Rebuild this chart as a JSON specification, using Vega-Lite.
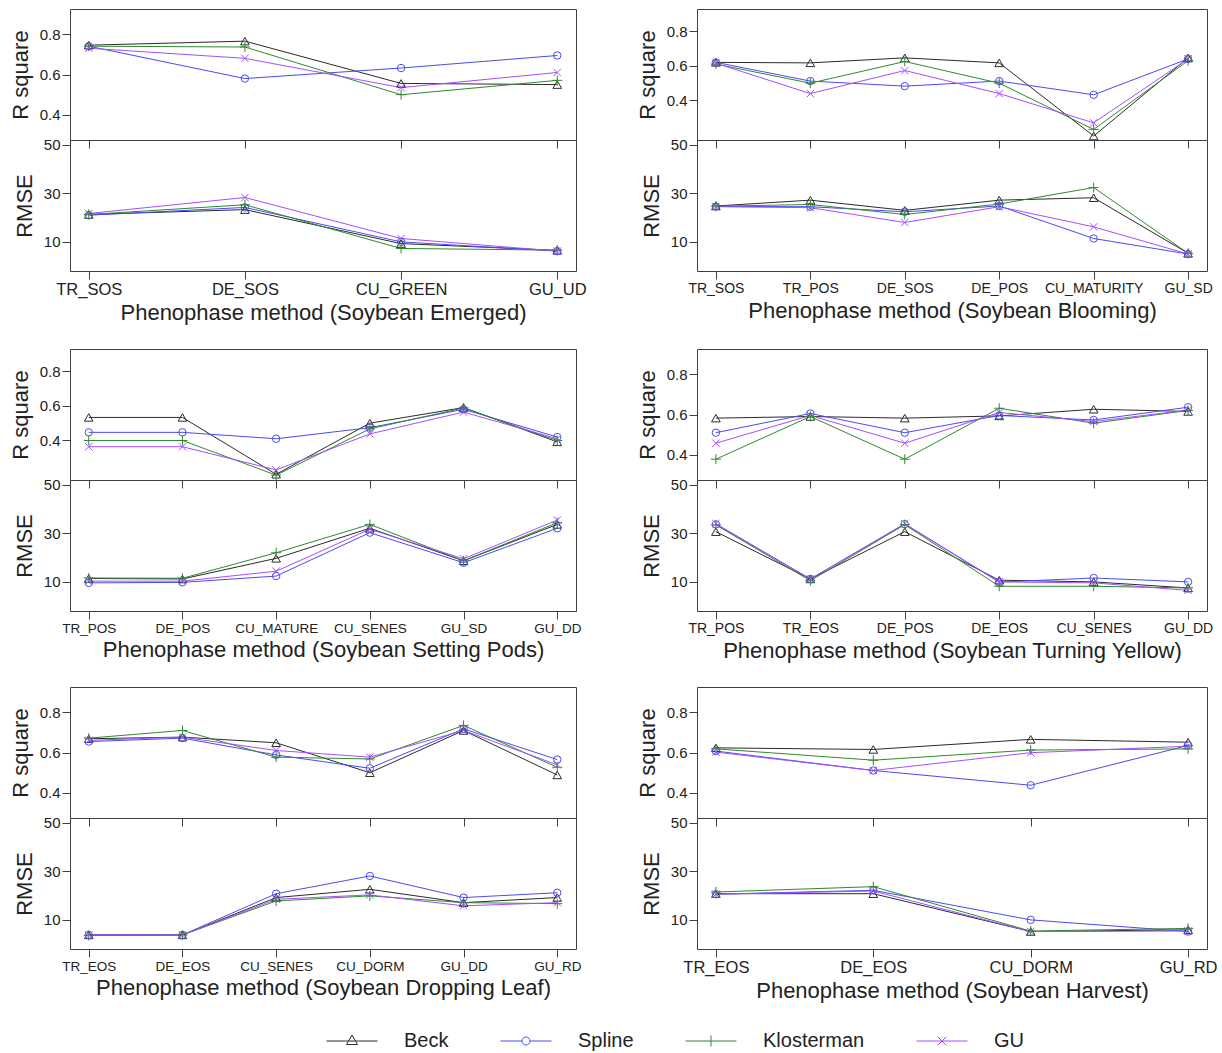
{
"$schema": "https://vega.github.io/schema/vega-lite/v6.json",
"padding": {"left": 8, "top": 8, "right": 2, "bottom": 2},
"background": "white",
"data": {"name": "d"},
"datasets": {"d": [
{"panel":"Emerged","stage":"TR_SOS","method":"Beck","r2":0.745,"rmse":21.3},
{"panel":"Emerged","stage":"DE_SOS","method":"Beck","r2":0.765,"rmse":23.3},
{"panel":"Emerged","stage":"CU_GREEN","method":"Beck","r2":0.556,"rmse":9.3},
{"panel":"Emerged","stage":"GU_UD","method":"Beck","r2":0.55,"rmse":6.5},
{"panel":"Emerged","stage":"TR_SOS","method":"Spline","r2":0.74,"rmse":21.0},
{"panel":"Emerged","stage":"DE_SOS","method":"Spline","r2":0.58,"rmse":24.2},
{"panel":"Emerged","stage":"CU_GREEN","method":"Spline","r2":0.632,"rmse":10.0},
{"panel":"Emerged","stage":"GU_UD","method":"Spline","r2":0.694,"rmse":6.2},
{"panel":"Emerged","stage":"TR_SOS","method":"Klosterman","r2":0.74,"rmse":21.3},
{"panel":"Emerged","stage":"DE_SOS","method":"Klosterman","r2":0.736,"rmse":25.3},
{"panel":"Emerged","stage":"CU_GREEN","method":"Klosterman","r2":0.5,"rmse":7.3},
{"panel":"Emerged","stage":"GU_UD","method":"Klosterman","r2":0.571,"rmse":6.6},
{"panel":"Emerged","stage":"TR_SOS","method":"GU","r2":0.73,"rmse":21.7},
{"panel":"Emerged","stage":"DE_SOS","method":"GU","r2":0.68,"rmse":28.3},
{"panel":"Emerged","stage":"CU_GREEN","method":"GU","r2":0.535,"rmse":11.4},
{"panel":"Emerged","stage":"GU_UD","method":"GU","r2":0.61,"rmse":6.2},

{"panel":"Blooming","stage":"TR_SOS","method":"Beck","r2":0.62,"rmse":24.8},
{"panel":"Blooming","stage":"TR_POS","method":"Beck","r2":0.617,"rmse":27.2},
{"panel":"Blooming","stage":"DE_SOS","method":"Beck","r2":0.646,"rmse":23.0},
{"panel":"Blooming","stage":"DE_POS","method":"Beck","r2":0.617,"rmse":27.2},
{"panel":"Blooming","stage":"CU_MATURITY","method":"Beck","r2":0.195,"rmse":28.2},
{"panel":"Blooming","stage":"GU_SD","method":"Beck","r2":0.646,"rmse":5.3},
{"panel":"Blooming","stage":"TR_SOS","method":"Spline","r2":0.62,"rmse":24.6},
{"panel":"Blooming","stage":"TR_POS","method":"Spline","r2":0.512,"rmse":24.5},
{"panel":"Blooming","stage":"DE_SOS","method":"Spline","r2":0.483,"rmse":22.4},
{"panel":"Blooming","stage":"DE_POS","method":"Spline","r2":0.512,"rmse":24.8},
{"panel":"Blooming","stage":"CU_MATURITY","method":"Spline","r2":0.433,"rmse":11.4},
{"panel":"Blooming","stage":"GU_SD","method":"Spline","r2":0.64,"rmse":5.0},
{"panel":"Blooming","stage":"TR_SOS","method":"Klosterman","r2":0.61,"rmse":24.7},
{"panel":"Blooming","stage":"TR_POS","method":"Klosterman","r2":0.5,"rmse":25.4},
{"panel":"Blooming","stage":"DE_SOS","method":"Klosterman","r2":0.625,"rmse":21.3},
{"panel":"Blooming","stage":"DE_POS","method":"Klosterman","r2":0.5,"rmse":25.6},
{"panel":"Blooming","stage":"CU_MATURITY","method":"Klosterman","r2":0.233,"rmse":32.4},
{"panel":"Blooming","stage":"GU_SD","method":"Klosterman","r2":0.63,"rmse":5.3},
{"panel":"Blooming","stage":"TR_SOS","method":"GU","r2":0.615,"rmse":24.5},
{"panel":"Blooming","stage":"TR_POS","method":"GU","r2":0.44,"rmse":24.1},
{"panel":"Blooming","stage":"DE_SOS","method":"GU","r2":0.573,"rmse":18.0},
{"panel":"Blooming","stage":"DE_POS","method":"GU","r2":0.44,"rmse":24.5},
{"panel":"Blooming","stage":"CU_MATURITY","method":"GU","r2":0.271,"rmse":16.2},
{"panel":"Blooming","stage":"GU_SD","method":"GU","r2":0.64,"rmse":5.0},

{"panel":"Setting Pods","stage":"TR_POS","method":"Beck","r2":0.533,"rmse":11.4},
{"panel":"Setting Pods","stage":"DE_POS","method":"Beck","r2":0.533,"rmse":11.2},
{"panel":"Setting Pods","stage":"CU_MATURE","method":"Beck","r2":0.205,"rmse":19.7},
{"panel":"Setting Pods","stage":"CU_SENES","method":"Beck","r2":0.5,"rmse":32.1},
{"panel":"Setting Pods","stage":"GU_SD","method":"Beck","r2":0.59,"rmse":18.7},
{"panel":"Setting Pods","stage":"GU_DD","method":"Beck","r2":0.392,"rmse":33.7},
{"panel":"Setting Pods","stage":"TR_POS","method":"Spline","r2":0.447,"rmse":9.6},
{"panel":"Setting Pods","stage":"DE_POS","method":"Spline","r2":0.447,"rmse":9.8},
{"panel":"Setting Pods","stage":"CU_MATURE","method":"Spline","r2":0.41,"rmse":12.4},
{"panel":"Setting Pods","stage":"CU_SENES","method":"Spline","r2":0.474,"rmse":30.3},
{"panel":"Setting Pods","stage":"GU_SD","method":"Spline","r2":0.58,"rmse":17.9},
{"panel":"Setting Pods","stage":"GU_DD","method":"Spline","r2":0.42,"rmse":32.1},
{"panel":"Setting Pods","stage":"TR_POS","method":"Klosterman","r2":0.4,"rmse":11.6},
{"panel":"Setting Pods","stage":"DE_POS","method":"Klosterman","r2":0.4,"rmse":11.5},
{"panel":"Setting Pods","stage":"CU_MATURE","method":"Klosterman","r2":0.2,"rmse":22.0},
{"panel":"Setting Pods","stage":"CU_SENES","method":"Klosterman","r2":0.467,"rmse":33.7},
{"panel":"Setting Pods","stage":"GU_SD","method":"Klosterman","r2":0.588,"rmse":18.7},
{"panel":"Setting Pods","stage":"GU_DD","method":"Klosterman","r2":0.4,"rmse":34.4},
{"panel":"Setting Pods","stage":"TR_POS","method":"GU","r2":0.364,"rmse":10.3},
{"panel":"Setting Pods","stage":"DE_POS","method":"GU","r2":0.364,"rmse":10.3},
{"panel":"Setting Pods","stage":"CU_MATURE","method":"GU","r2":0.23,"rmse":14.4},
{"panel":"Setting Pods","stage":"CU_SENES","method":"GU","r2":0.438,"rmse":31.7},
{"panel":"Setting Pods","stage":"GU_SD","method":"GU","r2":0.564,"rmse":19.5},
{"panel":"Setting Pods","stage":"GU_DD","method":"GU","r2":0.41,"rmse":35.5},

{"panel":"Turning Yellow","stage":"TR_POS","method":"Beck","r2":0.582,"rmse":30.7},
{"panel":"Turning Yellow","stage":"TR_EOS","method":"Beck","r2":0.59,"rmse":11.2},
{"panel":"Turning Yellow","stage":"DE_POS","method":"Beck","r2":0.582,"rmse":30.7},
{"panel":"Turning Yellow","stage":"DE_EOS","method":"Beck","r2":0.593,"rmse":10.7},
{"panel":"Turning Yellow","stage":"CU_SENES","method":"Beck","r2":0.626,"rmse":10.0},
{"panel":"Turning Yellow","stage":"GU_DD","method":"Beck","r2":0.615,"rmse":7.5},
{"panel":"Turning Yellow","stage":"TR_POS","method":"Spline","r2":0.51,"rmse":33.7},
{"panel":"Turning Yellow","stage":"TR_EOS","method":"Spline","r2":0.605,"rmse":11.2},
{"panel":"Turning Yellow","stage":"DE_POS","method":"Spline","r2":0.51,"rmse":33.8},
{"panel":"Turning Yellow","stage":"DE_EOS","method":"Spline","r2":0.595,"rmse":9.9},
{"panel":"Turning Yellow","stage":"CU_SENES","method":"Spline","r2":0.573,"rmse":11.6},
{"panel":"Turning Yellow","stage":"GU_DD","method":"Spline","r2":0.636,"rmse":10.0},
{"panel":"Turning Yellow","stage":"TR_POS","method":"Klosterman","r2":0.379,"rmse":33.5},
{"panel":"Turning Yellow","stage":"TR_EOS","method":"Klosterman","r2":0.59,"rmse":10.5},
{"panel":"Turning Yellow","stage":"DE_POS","method":"Klosterman","r2":0.379,"rmse":33.6},
{"panel":"Turning Yellow","stage":"DE_EOS","method":"Klosterman","r2":0.631,"rmse":8.2},
{"panel":"Turning Yellow","stage":"CU_SENES","method":"Klosterman","r2":0.557,"rmse":8.2},
{"panel":"Turning Yellow","stage":"GU_DD","method":"Klosterman","r2":0.62,"rmse":7.5},
{"panel":"Turning Yellow","stage":"TR_POS","method":"GU","r2":0.458,"rmse":34.0},
{"panel":"Turning Yellow","stage":"TR_EOS","method":"GU","r2":0.595,"rmse":11.2},
{"panel":"Turning Yellow","stage":"DE_POS","method":"GU","r2":0.458,"rmse":34.0},
{"panel":"Turning Yellow","stage":"DE_EOS","method":"GU","r2":0.61,"rmse":10.0},
{"panel":"Turning Yellow","stage":"CU_SENES","method":"GU","r2":0.565,"rmse":9.6},
{"panel":"Turning Yellow","stage":"GU_DD","method":"GU","r2":0.622,"rmse":6.5},

{"panel":"Dropping Leaf","stage":"TR_EOS","method":"Beck","r2":0.668,"rmse":3.8},
{"panel":"Dropping Leaf","stage":"DE_EOS","method":"Beck","r2":0.676,"rmse":3.8},
{"panel":"Dropping Leaf","stage":"CU_SENES","method":"Beck","r2":0.648,"rmse":19.2},
{"panel":"Dropping Leaf","stage":"CU_DORM","method":"Beck","r2":0.5,"rmse":22.6},
{"panel":"Dropping Leaf","stage":"GU_DD","method":"Beck","r2":0.709,"rmse":17.1},
{"panel":"Dropping Leaf","stage":"GU_RD","method":"Beck","r2":0.489,"rmse":19.2},
{"panel":"Dropping Leaf","stage":"TR_EOS","method":"Spline","r2":0.654,"rmse":3.8},
{"panel":"Dropping Leaf","stage":"DE_EOS","method":"Spline","r2":0.671,"rmse":3.8},
{"panel":"Dropping Leaf","stage":"CU_SENES","method":"Spline","r2":0.588,"rmse":20.8},
{"panel":"Dropping Leaf","stage":"CU_DORM","method":"Spline","r2":0.522,"rmse":28.1},
{"panel":"Dropping Leaf","stage":"GU_DD","method":"Spline","r2":0.717,"rmse":19.2},
{"panel":"Dropping Leaf","stage":"GU_RD","method":"Spline","r2":0.565,"rmse":21.2},
{"panel":"Dropping Leaf","stage":"TR_EOS","method":"Klosterman","r2":0.671,"rmse":3.6},
{"panel":"Dropping Leaf","stage":"DE_EOS","method":"Klosterman","r2":0.709,"rmse":3.8},
{"panel":"Dropping Leaf","stage":"CU_SENES","method":"Klosterman","r2":0.577,"rmse":17.8},
{"panel":"Dropping Leaf","stage":"CU_DORM","method":"Klosterman","r2":0.568,"rmse":19.9},
{"panel":"Dropping Leaf","stage":"GU_DD","method":"Klosterman","r2":0.734,"rmse":17.1},
{"panel":"Dropping Leaf","stage":"GU_RD","method":"Klosterman","r2":0.527,"rmse":16.7},
{"panel":"Dropping Leaf","stage":"TR_EOS","method":"GU","r2":0.66,"rmse":3.8},
{"panel":"Dropping Leaf","stage":"DE_EOS","method":"GU","r2":0.676,"rmse":3.8},
{"panel":"Dropping Leaf","stage":"CU_SENES","method":"GU","r2":0.61,"rmse":18.5},
{"panel":"Dropping Leaf","stage":"CU_DORM","method":"GU","r2":0.577,"rmse":20.3},
{"panel":"Dropping Leaf","stage":"GU_DD","method":"GU","r2":0.709,"rmse":15.8},
{"panel":"Dropping Leaf","stage":"GU_RD","method":"GU","r2":0.539,"rmse":17.1},

{"panel":"Harvest","stage":"TR_EOS","method":"Beck","r2":0.623,"rmse":20.8},
{"panel":"Harvest","stage":"DE_EOS","method":"Beck","r2":0.615,"rmse":20.8},
{"panel":"Harvest","stage":"CU_DORM","method":"Beck","r2":0.665,"rmse":5.2},
{"panel":"Harvest","stage":"GU_RD","method":"Beck","r2":0.651,"rmse":5.9},
{"panel":"Harvest","stage":"TR_EOS","method":"Spline","r2":0.607,"rmse":20.6},
{"panel":"Harvest","stage":"DE_EOS","method":"Spline","r2":0.511,"rmse":22.2},
{"panel":"Harvest","stage":"CU_DORM","method":"Spline","r2":0.438,"rmse":10.0},
{"panel":"Harvest","stage":"GU_RD","method":"Spline","r2":0.635,"rmse":5.2},
{"panel":"Harvest","stage":"TR_EOS","method":"Klosterman","r2":0.618,"rmse":21.5},
{"panel":"Harvest","stage":"DE_EOS","method":"Klosterman","r2":0.562,"rmse":23.7},
{"panel":"Harvest","stage":"CU_DORM","method":"Klosterman","r2":0.612,"rmse":5.4},
{"panel":"Harvest","stage":"GU_RD","method":"Klosterman","r2":0.618,"rmse":6.5},
{"panel":"Harvest","stage":"TR_EOS","method":"GU","r2":0.602,"rmse":20.6},
{"panel":"Harvest","stage":"DE_EOS","method":"GU","r2":0.511,"rmse":21.9},
{"panel":"Harvest","stage":"CU_DORM","method":"GU","r2":0.599,"rmse":5.2},
{"panel":"Harvest","stage":"GU_RD","method":"GU","r2":0.631,"rmse":5.4}
]},
"config": {
  "font": "Liberation Sans",
  "view": {"stroke": "#404040", "strokeWidth": 1},
  "axis": {"grid": false, "domain": false, "tickColor": "#404040", "tickSize": 8, "labelColor": "#222222", "titleColor": "#222222", "titleFontWeight": "normal", "labelFont": "Liberation Sans", "titleFont": "Liberation Sans", "titleFontSize": 22, "labelFontSize": 15, "labelPadding": 2},
  "axisY": {"titlePadding": 7, "labelFlush": false},
  "axisX": {"labelAngle": 0, "titlePadding": 5, "labelOverlap": false, "labelFlush": false},
  "legend": {"title": null, "orient": "none", "direction": "horizontal", "legendX": 272, "legendY": 1022, "symbolSize": 100, "symbolStrokeWidth": 1, "symbolOpacity": 1, "labelFontSize": 20, "labelOffset": 42, "columnPadding": 49, "labelFont": "Liberation Sans", "labelColor": "#222222"}
},
"columns": 2,
"spacing": {"row": 24, "column": 48},
"concat": [
 {"vconcat": [
  {"width": 506, "height": 131,
   "transform": [{"filter": "datum.panel === 'Emerged'"}],
   "encoding": {
     "x": {"field": "stage", "type": "nominal", "sort": ["TR_SOS","DE_SOS","CU_GREEN","GU_UD"], "scale": {"type": "point", "padding": 0.12}, "axis": {"labels": false, "title": null}},
     "y": {"field": "r2", "type": "quantitative", "scale": {"domain": [0.276, 0.924], "nice": false, "zero": false}, "axis": {"values": [0.4, 0.6, 0.8], "format": ".1f", "title": "R square"}},
     "color": {"field": "method", "type": "nominal", "scale": {"domain": ["Beck","Spline","Klosterman","GU"], "range": ["#2b2b2b","#4b4bf2","#2f8a2f","#a64dff"]}, "legend": {"title": null}}
   },
   "layer": [
     {"mark": {"type": "line", "strokeWidth": 1}},
     {"mark": {"type": "point", "filled": false, "opacity": 1, "strokeWidth": 1},
      "encoding": {
        "shape": {"condition": [{"test": "datum.method === 'Beck'", "value": "triangle-up"}, {"test": "datum.method === 'Spline'", "value": "circle"}, {"test": "datum.method === 'Klosterman'", "value": "M-1,0L1,0M0,-1L0,1"}], "value": "M-1,-1L1,1M-1,1L1,-1"},
        "size": {"condition": [{"test": "datum.method === 'Beck'", "value": 75}, {"test": "datum.method === 'Spline'", "value": 55}, {"test": "datum.method === 'Klosterman'", "value": 100}], "value": 55}}}
   ]},
  {"width": 506, "height": 131,
   "transform": [{"filter": "datum.panel === 'Emerged'"}],
   "encoding": {
     "x": {"field": "stage", "type": "nominal", "sort": ["TR_SOS","DE_SOS","CU_GREEN","GU_UD"], "scale": {"type": "point", "padding": 0.12}, "axis": {"title": "Phenophase method (Soybean Emerged)", "labelFontSize": 16.5}},
     "y": {"field": "rmse", "type": "quantitative", "scale": {"domain": [-2, 52], "nice": false, "zero": false}, "axis": {"values": [10, 30, 50], "title": "RMSE"}},
     "color": {"field": "method", "type": "nominal", "scale": {"domain": ["Beck","Spline","Klosterman","GU"], "range": ["#2b2b2b","#4b4bf2","#2f8a2f","#a64dff"]}, "legend": {"title": null}}
   },
   "layer": [
     {"mark": {"type": "line", "strokeWidth": 1}},
     {"mark": {"type": "point", "filled": false, "opacity": 1, "strokeWidth": 1},
      "encoding": {
        "shape": {"condition": [{"test": "datum.method === 'Beck'", "value": "triangle-up"}, {"test": "datum.method === 'Spline'", "value": "circle"}, {"test": "datum.method === 'Klosterman'", "value": "M-1,0L1,0M0,-1L0,1"}], "value": "M-1,-1L1,1M-1,1L1,-1"},
        "size": {"condition": [{"test": "datum.method === 'Beck'", "value": 75}, {"test": "datum.method === 'Spline'", "value": 55}, {"test": "datum.method === 'Klosterman'", "value": 100}], "value": 55}}},
     {"mark": {"type": "point", "filled": false, "opacity": 0, "strokeWidth": 1},
      "encoding": {
        "shape": {"field": "method", "type": "nominal", "scale": {"domain": ["Beck","Spline","Klosterman","GU"], "range": ["M-5.1,0L5.1,0M0,-1.2L1.1,0.7L-1.1,0.7Z", "M-5.1,0L-0.8,0M0.8,0L5.1,0M0.8,0A0.8,0.8,0,1,1,-0.8,0A0.8,0.8,0,1,1,0.8,0", "M-5.1,0L5.1,0M0,-1.1L0,1.1", "M-5.1,0L5.1,0M-0.85,-0.85L0.85,0.85M-0.85,0.85L0.85,-0.85"]}, "legend": {"title": null}},
        "color": {"field": "method", "type": "nominal", "scale": {"domain": ["Beck","Spline","Klosterman","GU"], "range": ["#2b2b2b","#4b4bf2","#2f8a2f","#a64dff"]}, "legend": {"title": null}}}}
   ]}
 ], "spacing": 0, "bounds": "flush"},

 {"vconcat": [
  {"width": 510, "height": 131,
   "transform": [{"filter": "datum.panel === 'Blooming'"}],
   "encoding": {
     "x": {"field": "stage", "type": "nominal", "sort": ["TR_SOS","TR_POS","DE_SOS","DE_POS","CU_MATURITY","GU_SD"], "scale": {"type": "point", "padding": 0.2}, "axis": {"labels": false, "title": null}},
     "y": {"field": "r2", "type": "quantitative", "scale": {"domain": [0.172, 0.928], "nice": false, "zero": false}, "axis": {"values": [0.4, 0.6, 0.8], "format": ".1f", "title": "R square"}},
     "color": {"field": "method", "type": "nominal", "scale": {"domain": ["Beck","Spline","Klosterman","GU"], "range": ["#2b2b2b","#4b4bf2","#2f8a2f","#a64dff"]}, "legend": {"title": null}}
   },
   "layer": [
     {"mark": {"type": "line", "strokeWidth": 1}},
     {"mark": {"type": "point", "filled": false, "opacity": 1, "strokeWidth": 1},
      "encoding": {
        "shape": {"condition": [{"test": "datum.method === 'Beck'", "value": "triangle-up"}, {"test": "datum.method === 'Spline'", "value": "circle"}, {"test": "datum.method === 'Klosterman'", "value": "M-1,0L1,0M0,-1L0,1"}], "value": "M-1,-1L1,1M-1,1L1,-1"},
        "size": {"condition": [{"test": "datum.method === 'Beck'", "value": 75}, {"test": "datum.method === 'Spline'", "value": 55}, {"test": "datum.method === 'Klosterman'", "value": 100}], "value": 55}}}
   ]},
  {"width": 510, "height": 131,
   "transform": [{"filter": "datum.panel === 'Blooming'"}],
   "encoding": {
     "x": {"field": "stage", "type": "nominal", "sort": ["TR_SOS","TR_POS","DE_SOS","DE_POS","CU_MATURITY","GU_SD"], "scale": {"type": "point", "padding": 0.2}, "axis": {"title": "Phenophase method (Soybean Blooming)", "labelFontSize": 14}},
     "y": {"field": "rmse", "type": "quantitative", "scale": {"domain": [-2, 52], "nice": false, "zero": false}, "axis": {"values": [10, 30, 50], "title": "RMSE"}},
     "color": {"field": "method", "type": "nominal", "scale": {"domain": ["Beck","Spline","Klosterman","GU"], "range": ["#2b2b2b","#4b4bf2","#2f8a2f","#a64dff"]}, "legend": {"title": null}}
   },
   "layer": [
     {"mark": {"type": "line", "strokeWidth": 1}},
     {"mark": {"type": "point", "filled": false, "opacity": 1, "strokeWidth": 1},
      "encoding": {
        "shape": {"condition": [{"test": "datum.method === 'Beck'", "value": "triangle-up"}, {"test": "datum.method === 'Spline'", "value": "circle"}, {"test": "datum.method === 'Klosterman'", "value": "M-1,0L1,0M0,-1L0,1"}], "value": "M-1,-1L1,1M-1,1L1,-1"},
        "size": {"condition": [{"test": "datum.method === 'Beck'", "value": 75}, {"test": "datum.method === 'Spline'", "value": 55}, {"test": "datum.method === 'Klosterman'", "value": 100}], "value": 55}}}
   ]}
 ], "spacing": 0, "bounds": "flush"},

 {"vconcat": [
  {"width": 506, "height": 131,
   "transform": [{"filter": "datum.panel === 'Setting Pods'"}],
   "encoding": {
     "x": {"field": "stage", "type": "nominal", "sort": ["TR_POS","DE_POS","CU_MATURE","CU_SENES","GU_SD","GU_DD"], "scale": {"type": "point", "padding": 0.2}, "axis": {"labels": false, "title": null}},
     "y": {"field": "r2", "type": "quantitative", "scale": {"domain": [0.172, 0.928], "nice": false, "zero": false}, "axis": {"values": [0.4, 0.6, 0.8], "format": ".1f", "title": "R square"}},
     "color": {"field": "method", "type": "nominal", "scale": {"domain": ["Beck","Spline","Klosterman","GU"], "range": ["#2b2b2b","#4b4bf2","#2f8a2f","#a64dff"]}, "legend": {"title": null}}
   },
   "layer": [
     {"mark": {"type": "line", "strokeWidth": 1}},
     {"mark": {"type": "point", "filled": false, "opacity": 1, "strokeWidth": 1},
      "encoding": {
        "shape": {"condition": [{"test": "datum.method === 'Beck'", "value": "triangle-up"}, {"test": "datum.method === 'Spline'", "value": "circle"}, {"test": "datum.method === 'Klosterman'", "value": "M-1,0L1,0M0,-1L0,1"}], "value": "M-1,-1L1,1M-1,1L1,-1"},
        "size": {"condition": [{"test": "datum.method === 'Beck'", "value": 75}, {"test": "datum.method === 'Spline'", "value": 55}, {"test": "datum.method === 'Klosterman'", "value": 100}], "value": 55}}}
   ]},
  {"width": 506, "height": 131,
   "transform": [{"filter": "datum.panel === 'Setting Pods'"}],
   "encoding": {
     "x": {"field": "stage", "type": "nominal", "sort": ["TR_POS","DE_POS","CU_MATURE","CU_SENES","GU_SD","GU_DD"], "scale": {"type": "point", "padding": 0.2}, "axis": {"title": "Phenophase method (Soybean Setting Pods)", "labelFontSize": 13.5}},
     "y": {"field": "rmse", "type": "quantitative", "scale": {"domain": [-2, 52], "nice": false, "zero": false}, "axis": {"values": [10, 30, 50], "title": "RMSE"}},
     "color": {"field": "method", "type": "nominal", "scale": {"domain": ["Beck","Spline","Klosterman","GU"], "range": ["#2b2b2b","#4b4bf2","#2f8a2f","#a64dff"]}, "legend": {"title": null}}
   },
   "layer": [
     {"mark": {"type": "line", "strokeWidth": 1}},
     {"mark": {"type": "point", "filled": false, "opacity": 1, "strokeWidth": 1},
      "encoding": {
        "shape": {"condition": [{"test": "datum.method === 'Beck'", "value": "triangle-up"}, {"test": "datum.method === 'Spline'", "value": "circle"}, {"test": "datum.method === 'Klosterman'", "value": "M-1,0L1,0M0,-1L0,1"}], "value": "M-1,-1L1,1M-1,1L1,-1"},
        "size": {"condition": [{"test": "datum.method === 'Beck'", "value": 75}, {"test": "datum.method === 'Spline'", "value": 55}, {"test": "datum.method === 'Klosterman'", "value": 100}], "value": 55}}}
   ]}
 ], "spacing": 0, "bounds": "flush"},

 {"vconcat": [
  {"width": 510, "height": 131,
   "transform": [{"filter": "datum.panel === 'Turning Yellow'"}],
   "encoding": {
     "x": {"field": "stage", "type": "nominal", "sort": ["TR_POS","TR_EOS","DE_POS","DE_EOS","CU_SENES","GU_DD"], "scale": {"type": "point", "padding": 0.2}, "axis": {"labels": false, "title": null}},
     "y": {"field": "r2", "type": "quantitative", "scale": {"domain": [0.276, 0.924], "nice": false, "zero": false}, "axis": {"values": [0.4, 0.6, 0.8], "format": ".1f", "title": "R square"}},
     "color": {"field": "method", "type": "nominal", "scale": {"domain": ["Beck","Spline","Klosterman","GU"], "range": ["#2b2b2b","#4b4bf2","#2f8a2f","#a64dff"]}, "legend": {"title": null}}
   },
   "layer": [
     {"mark": {"type": "line", "strokeWidth": 1}},
     {"mark": {"type": "point", "filled": false, "opacity": 1, "strokeWidth": 1},
      "encoding": {
        "shape": {"condition": [{"test": "datum.method === 'Beck'", "value": "triangle-up"}, {"test": "datum.method === 'Spline'", "value": "circle"}, {"test": "datum.method === 'Klosterman'", "value": "M-1,0L1,0M0,-1L0,1"}], "value": "M-1,-1L1,1M-1,1L1,-1"},
        "size": {"condition": [{"test": "datum.method === 'Beck'", "value": 75}, {"test": "datum.method === 'Spline'", "value": 55}, {"test": "datum.method === 'Klosterman'", "value": 100}], "value": 55}}}
   ]},
  {"width": 510, "height": 131,
   "transform": [{"filter": "datum.panel === 'Turning Yellow'"}],
   "encoding": {
     "x": {"field": "stage", "type": "nominal", "sort": ["TR_POS","TR_EOS","DE_POS","DE_EOS","CU_SENES","GU_DD"], "scale": {"type": "point", "padding": 0.2}, "axis": {"title": "Phenophase method (Soybean Turning Yellow)", "labelFontSize": 14}},
     "y": {"field": "rmse", "type": "quantitative", "scale": {"domain": [-2, 52], "nice": false, "zero": false}, "axis": {"values": [10, 30, 50], "title": "RMSE"}},
     "color": {"field": "method", "type": "nominal", "scale": {"domain": ["Beck","Spline","Klosterman","GU"], "range": ["#2b2b2b","#4b4bf2","#2f8a2f","#a64dff"]}, "legend": {"title": null}}
   },
   "layer": [
     {"mark": {"type": "line", "strokeWidth": 1}},
     {"mark": {"type": "point", "filled": false, "opacity": 1, "strokeWidth": 1},
      "encoding": {
        "shape": {"condition": [{"test": "datum.method === 'Beck'", "value": "triangle-up"}, {"test": "datum.method === 'Spline'", "value": "circle"}, {"test": "datum.method === 'Klosterman'", "value": "M-1,0L1,0M0,-1L0,1"}], "value": "M-1,-1L1,1M-1,1L1,-1"},
        "size": {"condition": [{"test": "datum.method === 'Beck'", "value": 75}, {"test": "datum.method === 'Spline'", "value": 55}, {"test": "datum.method === 'Klosterman'", "value": 100}], "value": 55}}}
   ]}
 ], "spacing": 0, "bounds": "flush"},

 {"vconcat": [
  {"width": 506, "height": 131,
   "transform": [{"filter": "datum.panel === 'Dropping Leaf'"}],
   "encoding": {
     "x": {"field": "stage", "type": "nominal", "sort": ["TR_EOS","DE_EOS","CU_SENES","CU_DORM","GU_DD","GU_RD"], "scale": {"type": "point", "padding": 0.2}, "axis": {"labels": false, "title": null}},
     "y": {"field": "r2", "type": "quantitative", "scale": {"domain": [0.276, 0.924], "nice": false, "zero": false}, "axis": {"values": [0.4, 0.6, 0.8], "format": ".1f", "title": "R square"}},
     "color": {"field": "method", "type": "nominal", "scale": {"domain": ["Beck","Spline","Klosterman","GU"], "range": ["#2b2b2b","#4b4bf2","#2f8a2f","#a64dff"]}, "legend": {"title": null}}
   },
   "layer": [
     {"mark": {"type": "line", "strokeWidth": 1}},
     {"mark": {"type": "point", "filled": false, "opacity": 1, "strokeWidth": 1},
      "encoding": {
        "shape": {"condition": [{"test": "datum.method === 'Beck'", "value": "triangle-up"}, {"test": "datum.method === 'Spline'", "value": "circle"}, {"test": "datum.method === 'Klosterman'", "value": "M-1,0L1,0M0,-1L0,1"}], "value": "M-1,-1L1,1M-1,1L1,-1"},
        "size": {"condition": [{"test": "datum.method === 'Beck'", "value": 75}, {"test": "datum.method === 'Spline'", "value": 55}, {"test": "datum.method === 'Klosterman'", "value": 100}], "value": 55}}}
   ]},
  {"width": 506, "height": 131,
   "transform": [{"filter": "datum.panel === 'Dropping Leaf'"}],
   "encoding": {
     "x": {"field": "stage", "type": "nominal", "sort": ["TR_EOS","DE_EOS","CU_SENES","CU_DORM","GU_DD","GU_RD"], "scale": {"type": "point", "padding": 0.2}, "axis": {"title": "Phenophase method (Soybean Dropping Leaf)", "labelFontSize": 13.5}},
     "y": {"field": "rmse", "type": "quantitative", "scale": {"domain": [-2, 52], "nice": false, "zero": false}, "axis": {"values": [10, 30, 50], "title": "RMSE"}},
     "color": {"field": "method", "type": "nominal", "scale": {"domain": ["Beck","Spline","Klosterman","GU"], "range": ["#2b2b2b","#4b4bf2","#2f8a2f","#a64dff"]}, "legend": {"title": null}}
   },
   "layer": [
     {"mark": {"type": "line", "strokeWidth": 1}},
     {"mark": {"type": "point", "filled": false, "opacity": 1, "strokeWidth": 1},
      "encoding": {
        "shape": {"condition": [{"test": "datum.method === 'Beck'", "value": "triangle-up"}, {"test": "datum.method === 'Spline'", "value": "circle"}, {"test": "datum.method === 'Klosterman'", "value": "M-1,0L1,0M0,-1L0,1"}], "value": "M-1,-1L1,1M-1,1L1,-1"},
        "size": {"condition": [{"test": "datum.method === 'Beck'", "value": 75}, {"test": "datum.method === 'Spline'", "value": 55}, {"test": "datum.method === 'Klosterman'", "value": 100}], "value": 55}}}
   ]}
 ], "spacing": 0, "bounds": "flush"},

 {"vconcat": [
  {"width": 510, "height": 131,
   "transform": [{"filter": "datum.panel === 'Harvest'"}],
   "encoding": {
     "x": {"field": "stage", "type": "nominal", "sort": ["TR_EOS","DE_EOS","CU_DORM","GU_RD"], "scale": {"type": "point", "padding": 0.12}, "axis": {"labels": false, "title": null}},
     "y": {"field": "r2", "type": "quantitative", "scale": {"domain": [0.276, 0.924], "nice": false, "zero": false}, "axis": {"values": [0.4, 0.6, 0.8], "format": ".1f", "title": "R square"}},
     "color": {"field": "method", "type": "nominal", "scale": {"domain": ["Beck","Spline","Klosterman","GU"], "range": ["#2b2b2b","#4b4bf2","#2f8a2f","#a64dff"]}, "legend": {"title": null}}
   },
   "layer": [
     {"mark": {"type": "line", "strokeWidth": 1}},
     {"mark": {"type": "point", "filled": false, "opacity": 1, "strokeWidth": 1},
      "encoding": {
        "shape": {"condition": [{"test": "datum.method === 'Beck'", "value": "triangle-up"}, {"test": "datum.method === 'Spline'", "value": "circle"}, {"test": "datum.method === 'Klosterman'", "value": "M-1,0L1,0M0,-1L0,1"}], "value": "M-1,-1L1,1M-1,1L1,-1"},
        "size": {"condition": [{"test": "datum.method === 'Beck'", "value": 75}, {"test": "datum.method === 'Spline'", "value": 55}, {"test": "datum.method === 'Klosterman'", "value": 100}], "value": 55}}}
   ]},
  {"width": 510, "height": 131,
   "transform": [{"filter": "datum.panel === 'Harvest'"}],
   "encoding": {
     "x": {"field": "stage", "type": "nominal", "sort": ["TR_EOS","DE_EOS","CU_DORM","GU_RD"], "scale": {"type": "point", "padding": 0.12}, "axis": {"title": "Phenophase method (Soybean Harvest)", "labelFontSize": 16.5}},
     "y": {"field": "rmse", "type": "quantitative", "scale": {"domain": [-2, 52], "nice": false, "zero": false}, "axis": {"values": [10, 30, 50], "title": "RMSE"}},
     "color": {"field": "method", "type": "nominal", "scale": {"domain": ["Beck","Spline","Klosterman","GU"], "range": ["#2b2b2b","#4b4bf2","#2f8a2f","#a64dff"]}, "legend": {"title": null}}
   },
   "layer": [
     {"mark": {"type": "line", "strokeWidth": 1}},
     {"mark": {"type": "point", "filled": false, "opacity": 1, "strokeWidth": 1},
      "encoding": {
        "shape": {"condition": [{"test": "datum.method === 'Beck'", "value": "triangle-up"}, {"test": "datum.method === 'Spline'", "value": "circle"}, {"test": "datum.method === 'Klosterman'", "value": "M-1,0L1,0M0,-1L0,1"}], "value": "M-1,-1L1,1M-1,1L1,-1"},
        "size": {"condition": [{"test": "datum.method === 'Beck'", "value": 75}, {"test": "datum.method === 'Spline'", "value": 55}, {"test": "datum.method === 'Klosterman'", "value": 100}], "value": 55}}}
   ]}
 ], "spacing": 0, "bounds": "flush"}
]
}
